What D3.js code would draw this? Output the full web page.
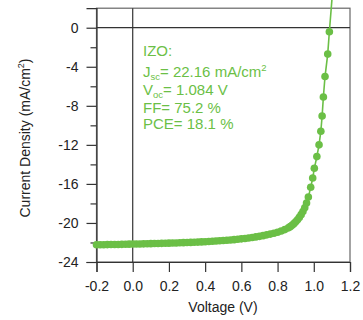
<!DOCTYPE html>
<html>
<head>
<meta charset="utf-8">
<script src="https://cdn.jsdelivr.net/npm/d3@7"></script>
<style>
  body { margin: 0; background: #fff; }
  svg text { font-family: "Liberation Sans", Arial, sans-serif; }
</style>
</head>
<body>
<div id="chart"></div>
<script>
// Datos (V, mA/cm2)
const voltage = [-0.20, -0.18, -0.16, -0.14, -0.12, -0.10, -0.08, -0.06, -0.04, -0.02,
  0.00, 0.02, 0.04, 0.06, 0.08, 0.10, 0.12, 0.14, 0.16, 0.18,
  0.20, 0.22, 0.24, 0.26, 0.28, 0.30, 0.32, 0.34, 0.36, 0.38,
  0.40, 0.42, 0.44, 0.46, 0.48, 0.50, 0.52, 0.54, 0.56, 0.58,
  0.60, 0.62, 0.64, 0.66, 0.68, 0.70, 0.72, 0.74, 0.76, 0.78,
  0.80, 0.82, 0.84, 0.86, 0.87, 0.88, 0.89, 0.90, 0.91, 0.92,
  0.93, 0.94, 0.95, 0.96, 0.97, 0.983, 0.994, 1.003, 1.017, 1.029,
  1.039, 1.046, 1.053, 1.062, 1.077, 1.086, 1.105];
const current = [-22.24, -22.23, -22.23, -22.22, -22.21, -22.21, -22.20, -22.19, -22.18, -22.17,
  -22.16, -22.15, -22.15, -22.14, -22.13, -22.12, -22.11, -22.10, -22.09, -22.08,
  -22.07, -22.06, -22.05, -22.03, -22.02, -22.01, -21.99, -21.97, -21.96, -21.94,
  -21.92, -21.90, -21.88, -21.85, -21.83, -21.80, -21.77, -21.74, -21.71, -21.67,
  -21.63, -21.59, -21.54, -21.49, -21.43, -21.37, -21.30, -21.22, -21.14, -21.05,
  -20.95, -20.83, -20.68, -20.50, -20.38, -20.24, -20.07, -19.88, -19.67, -19.43,
  -19.15, -18.83, -18.45, -17.95, -17.35, -16.35, -15.4, -14.4, -13.2, -12.0,
  -10.6, -9.05, -7.1, -5.0, -2.7, -0.41, 4.0];

const xTicks = [-0.2, 0.0, 0.2, 0.4, 0.6, 0.8, 1.0, 1.2];
const yTicks = [0, -4, -8, -12, -16, -20, -24];
const yMinor = [-2, -6, -10, -14, -18, -22];

const green = '#6bbf46';

const width = 363, height = 320;
const x = d3.scaleLinear().domain([-0.2, 1.2]).range([96.5, 350]);
const y = d3.scaleLinear().domain([-24, 2]).range([262, 8.2]);

const svg = d3.select('#chart').append('svg')
  .attr('width', width).attr('height', height);

// Marco
svg.append('rect')
  .attr('x', x(-0.2)).attr('y', y(2))
  .attr('width', x(1.2) - x(-0.2)).attr('height', y(-24) - y(2))
  .attr('fill', 'none').attr('stroke', '#666').attr('stroke-width', 1.2);

// Lineas de cero
svg.append('line')
  .attr('x1', x(-0.2)).attr('x2', x(1.2)).attr('y1', y(0)).attr('y2', y(0))
  .attr('stroke', '#333').attr('stroke-width', 1.2);
svg.append('line')
  .attr('x1', x(0)).attr('x2', x(0)).attr('y1', y(2)).attr('y2', y(-24))
  .attr('stroke', '#333').attr('stroke-width', 1.2);

// Ejes
const gx = svg.append('g')
  .attr('transform', 'translate(0,' + y(-24) + ')')
  .call(d3.axisBottom(x).tickValues(xTicks).tickSize(10).tickPadding(9)
    .tickFormat(d3.format('.1f')));
const gy = svg.append('g')
  .attr('transform', 'translate(' + x(-0.2) + ',0)')
  .call(d3.axisLeft(y).tickValues(yTicks).tickSize(10).tickPadding(8)
    .tickFormat(d => d === 0 ? '0' : d3.format('d')(d)));
svg.append('g')
  .attr('transform', 'translate(' + x(-0.2) + ',0)')
  .call(d3.axisLeft(y).tickValues(yMinor).tickSize(6).tickFormat(''))
  .call(g => g.select('.domain').remove());

svg.selectAll('.tick line').attr('stroke', '#333').attr('stroke-width', 1.2);
svg.selectAll('.domain').attr('stroke', '#333').attr('stroke-width', 1.2);
svg.selectAll('.tick text')
  .attr('fill', '#222').style('font-size', '14px')
  .style('font-family', '"Liberation Sans", Arial, sans-serif');
gx.selectAll('.tick text').text(function(d) { return d < 0 ? '-' + d3.format('.1f')(-d) : d3.format('.1f')(d); });
gy.selectAll('.tick text').text(d => d < 0 ? '-' + (-d) : '0');

// Titulos
svg.append('text')
  .attr('x', 223).attr('y', 311.5)
  .attr('text-anchor', 'middle')
  .attr('fill', '#222').style('font-size', '14px')
  .text('Voltage (V)');

const yt = svg.append('text')
  .attr('transform', 'translate(30,138) rotate(-90)')
  .attr('text-anchor', 'middle')
  .attr('fill', '#222').style('font-size', '14px');
yt.append('tspan').text('Current Density (mA/cm');
yt.append('tspan').attr('dy', -6).style('font-size', '9px').text('2');
yt.append('tspan').attr('dy', 6).text(')');

// Curva J-V
const data = voltage.map((v, i) => ({v: v, j: current[i]}));

svg.append('path')
  .datum(data)
  .attr('fill', 'none')
  .attr('stroke', green)
  .attr('stroke-width', 1.6)
  .attr('d', d3.line().x(d => x(d.v)).y(d => y(d.j)));

svg.selectAll('circle.pt')
  .data(data)
  .enter()
  .append('circle')
  .attr('class', 'pt')
  .attr('cx', d => x(d.v))
  .attr('cy', d => y(d.j))
  .attr('r', 3.8)
  .attr('fill', green);

// Anotacion
const tx = 143;
const note = svg.append('g').attr('fill', green).style('font-size', '15px');
note.append('text').attr('x', tx).attr('y', 56).text('IZO:');

const l1 = note.append('text').attr('x', tx).attr('y', 77);
l1.append('tspan').text('J');
l1.append('tspan').attr('dy', 2.5).style('font-size', '9.5px').text('sc');
l1.append('tspan').attr('dy', -2.5).text('= 22.16 mA/cm');
l1.append('tspan').attr('dy', -6).style('font-size', '9.5px').text('2');

const l2 = note.append('text').attr('x', tx).attr('y', 95);
l2.append('tspan').text('V');
l2.append('tspan').attr('dy', 2.5).style('font-size', '9.5px').text('oc');
l2.append('tspan').attr('dy', -2.5).text('= 1.084 V');

note.append('text').attr('x', tx).attr('y', 113).text('FF= 75.2 %');
note.append('text').attr('x', tx).attr('y', 129).text('PCE= 18.1 %');
</script>
</body>
</html>
